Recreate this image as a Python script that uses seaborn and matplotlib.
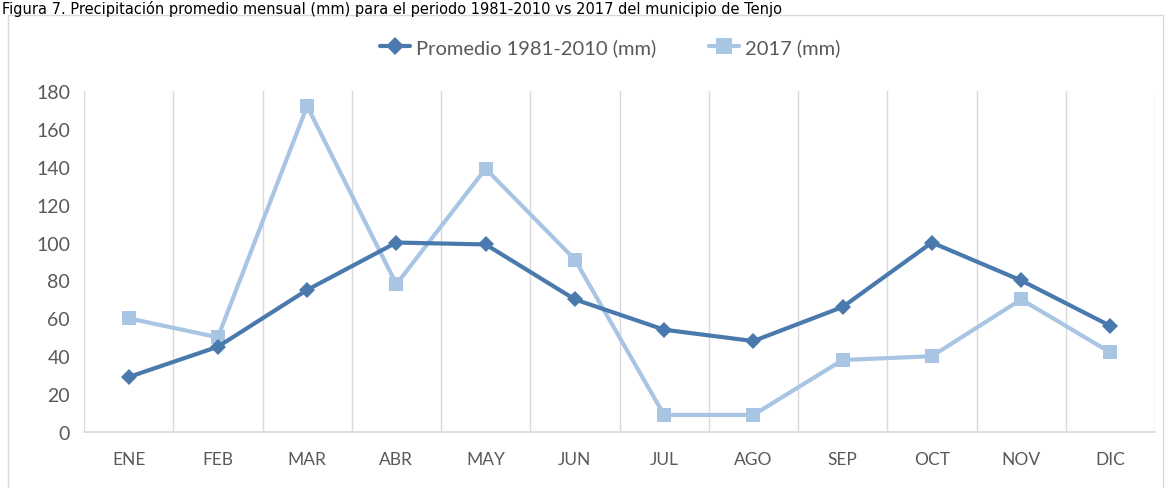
import matplotlib
matplotlib.use("Agg")
import matplotlib.pyplot as plt
from matplotlib.patches import Rectangle
from matplotlib.lines import Line2D
import pandas as pd
import seaborn as sns

months = ["ENE", "FEB", "MAR", "ABR", "MAY", "JUN",
          "JUL", "AGO", "SEP", "OCT", "NOV", "DIC"]
promedio_1981_2010 = [29, 45, 75, 100, 99, 70, 54, 48, 66, 100, 80, 56]
lluvia_2017 = [60, 50, 172, 78, 139, 91, 9, 9, 38, 40, 70, 42]
series_names = ["Promedio 1981-2010 (mm)", "2017 (mm)"]
y_ticks = [0, 20, 40, 60, 80, 100, 120, 140, 160, 180]
title = ("Figura 7. Precipitación promedio mensual (mm) para el periodo "
         "1981-2010 vs 2017 del municipio de Tenjo")

dark_blue = "#4a7aad"
light_blue = "#a9c5e4"
grid_gray = "#d9d9d9"
text_gray = "#595959"

df = pd.DataFrame({
    "mes": months * 2,
    "mm": promedio_1981_2010 + lluvia_2017,
    "serie": [series_names[0]] * 12 + [series_names[1]] * 12,
})

sns.set_theme(style="white")
plt.rcParams["font.family"] = ["Lato", "DejaVu Sans"]

fig = plt.figure(figsize=(11.69, 4.89), dpi=100)
ax = fig.add_axes([84 / 1169, 1 - 433 / 489, (1155 - 84) / 1169, (433 - 92) / 489])

# Light series first so the long-term average sits on top
sns.lineplot(data=df[df["serie"] == series_names[1]], x="mes", y="mm",
             sort=False, color=light_blue, lw=3, marker="s", ms=10,
             markeredgewidth=0, ax=ax)
sns.lineplot(data=df[df["serie"] == series_names[0]], x="mes", y="mm",
             sort=False, color=dark_blue, lw=3, marker="D", ms=8,
             markeredgewidth=0, ax=ax)

ax.set_xlim(-0.5, len(months) - 0.5)
ax.set_ylim(0, 180)
ax.set_yticks(y_ticks)
ax.set_xticks(range(len(months)))
ax.set_xticklabels(months)
ax.set_xlabel("")
ax.set_ylabel("")

# Vertical gridlines on category boundaries
ax.set_xticks([i - 0.5 for i in range(len(months) + 1)], minor=True)
ax.grid(False)
ax.grid(True, which="minor", axis="x", color=grid_gray, lw=1)
ax.tick_params(which="both", length=0)
ax.tick_params(axis="y", labelsize=14, labelcolor=text_gray, pad=10)
ax.tick_params(axis="x", labelsize=12.5, labelcolor=text_gray, pad=14)

for side in ["top", "left", "right"]:
    ax.spines[side].set_visible(False)
ax.spines["bottom"].set_color(grid_gray)
ax.spines["bottom"].set_linewidth(1.2)

handles = [
    Line2D([], [], color=dark_blue, lw=3, marker="D", ms=9, markeredgewidth=0),
    Line2D([], [], color=light_blue, lw=3, marker="s", ms=11, markeredgewidth=0),
]
fig.legend(handles, series_names, loc="center", bbox_to_anchor=(0.522, 1 - 48 / 489),
           ncol=2, frameon=False, fontsize=14.5, labelcolor=text_gray,
           handlelength=1.5, handletextpad=0.3, columnspacing=2.6)

# Chart frame
fig.patches.append(Rectangle((8 / 1169, -0.05), (1163 - 8) / 1169, 1.05 - 16 / 489,
                             transform=fig.transFigure, fill=False,
                             edgecolor=grid_gray, lw=1))

fig.text(2 / 1169, 1 - 1 / 489, title, ha="left", va="top",
         fontsize=10.5, color="black", family=["DejaVu Sans"])

fig.savefig("out.png", dpi=100, facecolor="white")
